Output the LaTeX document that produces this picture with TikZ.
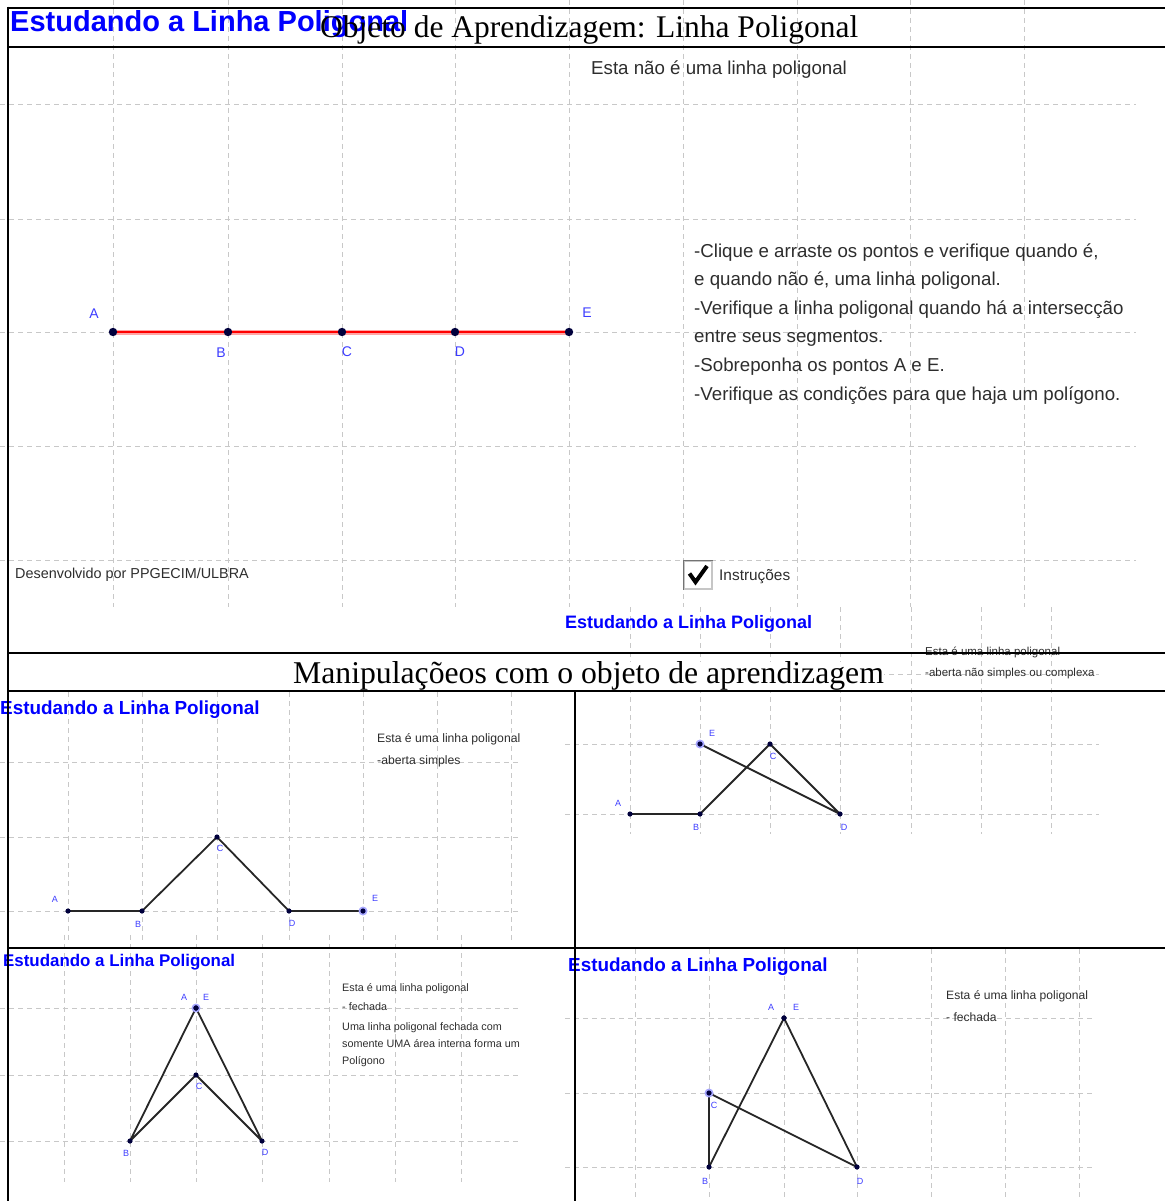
\documentclass[tikz,border=0pt]{standalone}
\usepackage{fontspec}
\setmainfont{Liberation Serif}
\setsansfont{Liberation Sans}

\definecolor{titleblue}{RGB}{0,0,255}
\definecolor{ggblue}{RGB}{60,60,255}
\definecolor{ggpoint}{RGB}{0,0,60}
\definecolor{ggtext}{RGB}{45,45,45}
\definecolor{gridgray}{RGB}{200,200,200}

\tikzset{
  gridline/.style={draw=gridgray, line width=1pt, dash pattern=on 5pt off 4pt},
  frameline/.style={draw=black, line width=2.6pt},
  bluetitle/.style={anchor=base west, inner sep=0pt, text=titleblue, font=\sffamily\bfseries\fontsize{#1}{#1}\selectfont},
  ggnote/.style={anchor=base west, inner sep=0pt, text=ggtext, font=\sffamily\fontsize{#1}{#1}\selectfont},
  doctitle/.style={anchor=base west, inner sep=0pt, font=\rmfamily\fontsize{#1}{#1}\selectfont},
  ptlabel/.style={inner sep=0pt, text=ggblue, font=\sffamily\fontsize{#1}{#1}\selectfont},
  segment/.style={draw=black!85, line width=1.8pt, line cap=round, line join=round},
}

\begin{document}
\begin{tikzpicture}[x=1pt, y=-1pt]
\useasboundingbox (0,0) rectangle (1165,1201);

%Grid of the main screen
\foreach \gx in {113,228,342,455,569,683,797,910,1024} \draw[gridline] (\gx,0) -- (\gx,607);
\foreach \gy in {105,219,332,446,560} \draw[gridline] (0,\gy) -- (1136,\gy);

%Grid of the open complex line
\foreach \gx in {630,700,770,840,911,981,1051} \draw[gridline] (\gx,607) -- (\gx,834);
\foreach \gy in {674,744,814} \draw[gridline] (565,\gy) -- (1099,\gy);

%Grid of the open simple line
\foreach \gx in {68,142,217,289,363,437,511} \draw[gridline] (\gx,692) -- (\gx,942);
\foreach \gy in {762,837,911} \draw[gridline] (0,\gy) -- (520,\gy);

%Grid of the closed line
\foreach \gx in {64,130,196,262,329,395,461} \draw[gridline] (\gx,935) -- (\gx,1182);
\foreach \gy in {1008,1075,1141} \draw[gridline] (0,\gy) -- (520,\gy);

%Grid of the closed crossed line
\foreach \gx in {635,709,784,857,931,1005,1079} \draw[gridline] (\gx,949) -- (\gx,1201);
\foreach \gy in {1018,1093,1167} \draw[gridline] (565,\gy) -- (1093,\gy);

%Titles of the document
\node[bluetitle=29pt] (ggtitle1) at (10,32) {Estudando a Linha Poligonal};
\node[doctitle=31.5pt] (doctitle) at (320,37.5) {Objeto de Aprendizagem: Linha Poligonal};

%Texts of the main screen
\node[ggnote=18.7pt] (notmsg) at (591,75) {Esta não é uma linha poligonal};
\node[ggnote=18.7pt] (ins1) at (694,257) {-Clique e arraste os pontos e verifique quando é,};
\node[ggnote=18.7pt] (ins2) at (694,285.6) {e quando não é, uma linha poligonal.};
\node[ggnote=18.7pt] (ins3) at (694,314.2) {-Verifique a linha poligonal quando há a intersecção};
\node[ggnote=18.7pt] (ins4) at (694,342.8) {entre seus segmentos.};
\node[ggnote=18.7pt] (ins5) at (694,371.4) {-Sobreponha os pontos A e E.};
\node[ggnote=18.7pt] (ins6) at (694,400) {-Verifique as condições para que haja um polígono.};
\node[ggnote=14.4pt] (credit) at (15,578) {Desenvolvido por PPGECIM/ULBRA};

%Check box
\node[draw=gray!45, line width=1.2pt, fill=white, minimum size=28pt, inner sep=0pt] (chkbox) at (698,575) {};
\draw[gray!90!black, line width=1.6pt] (chkbox.south west) -- (chkbox.north west) -- (chkbox.north east);
\draw[black, line width=4pt, line join=miter] (689.5,573.5) -- (695.5,582) -- (707,566);
\node[ggnote=15.4pt] (chklabel) at (719,580.5) {Instruções};

%Texts of the open complex line
\node[bluetitle=18pt] (ggtitle3) at (565,628.5) {Estudando a Linha Poligonal};
\node[ggnote=11.5pt] (msg3a) at (925,655) {Esta é uma linha poligonal};
\node[ggnote=11.5pt] (msg3b) at (925,676) {-aberta não simples ou complexa};

%Title of the second part
\node[doctitle=31.7pt, fill=white] (parttitle) at (293,683.5) {Manipulaçõeos com o objeto de aprendizagem};

%Texts of the open simple line
\node[bluetitle=18.9pt] (ggtitle2) at (0,714.8) {Estudando a Linha Poligonal};
\node[ggnote=12.2pt] (msg2a) at (377,742.4) {Esta é uma linha poligonal};
\node[ggnote=12.2pt] (msg2b) at (377,764.4) {-aberta simples};

%Texts of the closed line
\node[bluetitle=16.9pt] (ggtitle4) at (3,966) {Estudando a Linha Poligonal};
\node[ggnote=10.8pt] (msg4a) at (342,991) {Esta é uma linha poligonal};
\node[ggnote=10.8pt] (msg4b) at (342,1010) {- fechada};
\node[ggnote=10.8pt] (msg4c) at (342,1030) {Uma linha poligonal fechada com};
\node[ggnote=10.8pt] (msg4d) at (342,1047) {somente UMA área interna forma um};
\node[ggnote=10.8pt] (msg4e) at (342,1064) {Polígono};

%Texts of the closed crossed line
\node[bluetitle=18.9pt] (ggtitle5) at (568,971.8) {Estudando a Linha Poligonal};
\node[ggnote=12.1pt] (msg5a) at (946,999) {Esta é uma linha poligonal};
\node[ggnote=12.1pt] (msg5b) at (946,1021) {- fechada};

%Frame of the table
\draw[frameline] (8,8) -- (1165,8);
\draw[frameline] (8,47) -- (1165,47);
\draw[frameline] (8,653) -- (1165,653);
\draw[frameline] (8,691) -- (1165,691);
\draw[frameline] (8,948) -- (1165,948);
\draw[frameline] (8,6.7) -- (8,1201);
\draw[frameline] (575,691) -- (575,1201);

%Points A to E on one line
\coordinate (pA1) at (113,332);
\coordinate (pB1) at (228,332);
\coordinate (pC1) at (342,332);
\coordinate (pD1) at (455,332);
\coordinate (pE1) at (569,332);
\draw[red!35, line width=5pt] (pA1) -- (pE1);
\draw[red, line width=2.6pt] (pA1) -- (pB1) -- (pC1) -- (pD1) -- (pE1);
\foreach \p in {pA1,pB1,pC1,pD1,pE1} \fill[ggpoint] (\p) circle (4.2pt);
\node[ptlabel=14pt] (lA1) at (94,314) {A};
\node[ptlabel=14pt] (lB1) at (221,353) {B};
\node[ptlabel=14pt] (lC1) at (347,352) {C};
\node[ptlabel=14pt] (lD1) at (460,352) {D};
\node[ptlabel=14pt] (lE1) at (587,313) {E};

%Open simple line
\coordinate (pA2) at (68,911);
\coordinate (pB2) at (142,911);
\coordinate (pC2) at (217,837);
\coordinate (pD2) at (289,911);
\coordinate (pE2) at (363,911);
\draw[segment] (pA2) -- (pB2) -- (pC2) -- (pD2) -- (pE2);
\fill[ggblue!45] (pE2) circle (4.5pt);
\foreach \p in {pA2,pB2,pC2,pD2,pE2} \fill[ggpoint] (\p) circle (2.6pt);
\node[ptlabel=9pt] (lA2) at (55,899) {A};
\node[ptlabel=9pt] (lB2) at (138,924) {B};
\node[ptlabel=9pt] (lC2) at (220,848) {C};
\node[ptlabel=9pt] (lD2) at (292,923) {D};
\node[ptlabel=9pt] (lE2) at (375,898) {E};

%Open complex line
\coordinate (pA3) at (630,814);
\coordinate (pB3) at (700,814);
\coordinate (pC3) at (770,744);
\coordinate (pD3) at (840,814);
\coordinate (pE3) at (700,744);
\draw[segment] (pA3) -- (pB3) -- (pC3) -- (pD3) -- (pE3);
\fill[ggblue!45] (pE3) circle (4.5pt);
\foreach \p in {pA3,pB3,pC3,pD3,pE3} \fill[ggpoint] (\p) circle (2.6pt);
\node[ptlabel=9pt] (lA3) at (618,803) {A};
\node[ptlabel=9pt] (lB3) at (696,827) {B};
\node[ptlabel=9pt] (lC3) at (773,756) {C};
\node[ptlabel=9pt] (lD3) at (844,827) {D};
\node[ptlabel=9pt] (lE3) at (712,733) {E};

%Closed line
\coordinate (pA4) at (196,1008);
\coordinate (pB4) at (130,1141);
\coordinate (pC4) at (196,1075);
\coordinate (pD4) at (262,1141);
\coordinate (pE4) at (196,1008);
\draw[segment] (pA4) -- (pB4) -- (pC4) -- (pD4) -- (pE4);
\fill[ggblue!45] (pE4) circle (4.5pt);
\foreach \p in {pA4,pB4,pC4,pD4,pE4} \fill[ggpoint] (\p) circle (2.6pt);
\node[ptlabel=9pt] (lA4) at (184,997) {A};
\node[ptlabel=9pt] (lE4) at (206,997) {E};
\node[ptlabel=9pt] (lC4) at (199,1086) {C};
\node[ptlabel=9pt] (lB4) at (126,1153) {B};
\node[ptlabel=9pt] (lD4) at (265,1152) {D};

%Closed crossed line
\coordinate (pA5) at (784,1018);
\coordinate (pB5) at (709,1167);
\coordinate (pC5) at (709,1093);
\coordinate (pD5) at (857,1167);
\coordinate (pE5) at (784,1018);
\draw[segment] (pA5) -- (pB5) -- (pC5) -- (pD5) -- (pE5);
\fill[ggblue!45] (pC5) circle (4.5pt);
\foreach \p in {pA5,pB5,pC5,pD5,pE5} \fill[ggpoint] (\p) circle (2.6pt);
\node[ptlabel=9pt] (lA5) at (771,1007) {A};
\node[ptlabel=9pt] (lE5) at (796,1007) {E};
\node[ptlabel=9pt] (lC5) at (714,1105) {C};
\node[ptlabel=9pt] (lB5) at (705,1181) {B};
\node[ptlabel=9pt] (lD5) at (860,1181) {D};

\end{tikzpicture}
\end{document}
